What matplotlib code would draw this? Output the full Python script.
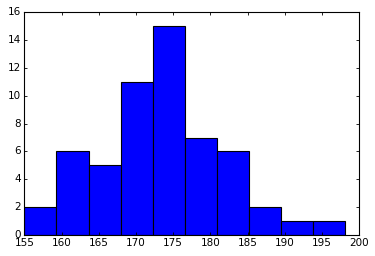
import matplotlib
matplotlib.use("Agg")
import matplotlib.pyplot as plt

bin_edges = [155.0, 159.31, 163.62, 167.93, 172.24, 176.55, 180.86, 185.17, 189.48, 193.79, 198.1]
counts = [2, 6, 5, 11, 15, 7, 6, 2, 1, 1]
x_ticks = [155, 160, 165, 170, 175, 180, 185, 190, 195, 200]
y_ticks = [0, 2, 4, 6, 8, 10, 12, 14, 16]

plt.style.use('classic')
fig = plt.figure(figsize=(3.75, 2.56), dpi=100, facecolor='white')
ax = fig.add_axes([0.065, 0.082, 0.893, 0.870])
ax.hist(bin_edges[:-1], bins=bin_edges, weights=counts, color='#0000ff',
        edgecolor='black', linewidth=0.8)
ax.set_xlim(155, 200)
ax.set_ylim(0, 16)
ax.set_xticks(x_ticks)
ax.set_yticks(y_ticks)
ax.tick_params(direction='in', length=2.5, width=0.6, labelsize=7.5, pad=2.5,
               top=True, right=True)
for s in ax.spines.values():
    s.set_linewidth(0.8)
fig.savefig('out.png', dpi=100, facecolor='white')
